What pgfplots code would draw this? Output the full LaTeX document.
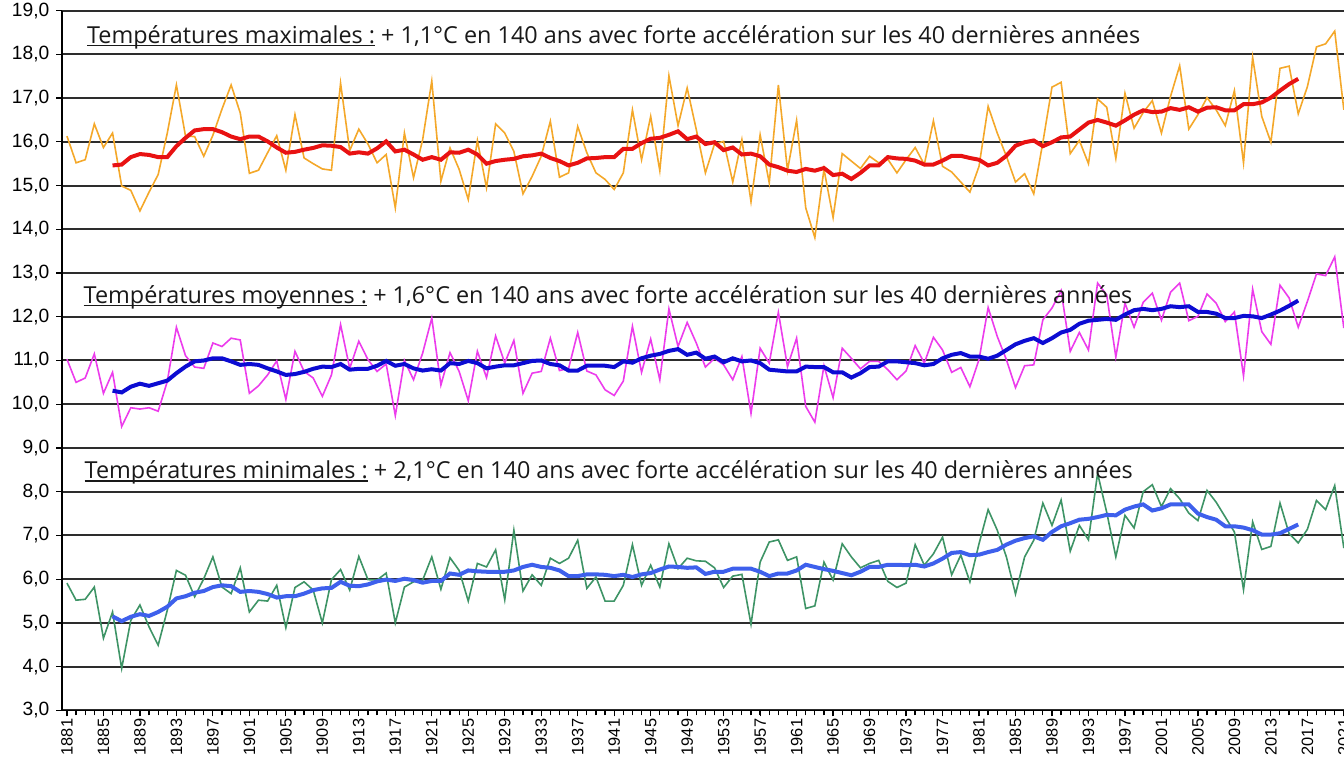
\documentclass[border=0pt]{standalone}
\usepackage{fontspec}
\setmainfont{Liberation Sans}
\newfontfamily\titlefont{Open Sans}
\usepackage{pgfplots}
\pgfplotsset{compat=1.18}
\definecolor{orangec}{RGB}{244,168,42}
\definecolor{redc}{RGB}{232,18,18}
\definecolor{magc}{RGB}{236,60,236}
\definecolor{dbluec}{RGB}{12,12,210}
\definecolor{greenc}{RGB}{62,148,102}
\definecolor{lbluec}{RGB}{62,96,236}
\definecolor{gridc}{RGB}{45,45,45}
\definecolor{titlec}{RGB}{25,25,25}
\newcommand\ul[1]{\setbox0\hbox{#1}\rlap{\rule[-1.6pt]{\wd0}{0.55pt}}\box0\relax}
\begin{document}
\begin{tikzpicture}
\begin{axis}[
  at={(31.2pt,22.8pt)}, anchor=south west,
  scale only axis, width=643pt, height=349.9pt,
  xmin=1880.5, xmax=2021.5, ymin=3, ymax=19,
  axis x line*=bottom, axis y line*=left,
  axis line style={black, line width=0.9pt},
  ytick={3,4,...,19}, ymajorgrids,
  grid style={color=gridc, line width=1pt},
  xtick={1881,1885,...,2021}, minor xtick={1881,1882,...,2021},
  tick align=outside, major tick length=3pt, minor tick length=2.5pt,
  tick style={black, line width=0.6pt},
  /pgf/number format/assume math mode=true,
  x tick label style={rotate=90, anchor=east, inner sep=1pt, font=\fontsize{8.2}{9}\selectfont,
     /pgf/number format/.cd, set thousands separator={}},
  y tick label style={font=\fontsize{9.6}{10}\selectfont,
     /pgf/number format/.cd, fixed, fixed zerofill, precision=1, use comma},
  clip=true,
]
\addplot[orangec, line width=0.8pt] table {
1881 16.13
1882 15.52
1883 15.59
1884 16.41
1885 15.87
1886 16.20
1887 14.99
1888 14.89
1889 14.42
1890 14.85
1891 15.25
1892 16.20
1893 17.30
1894 16.13
1895 16.12
1896 15.67
1897 16.15
1898 16.75
1899 17.30
1900 16.66
1901 15.28
1902 15.35
1903 15.75
1904 16.14
1905 15.35
1906 16.62
1907 15.63
1908 15.50
1909 15.38
1910 15.35
1911 17.34
1912 15.80
1913 16.29
1914 15.95
1915 15.52
1916 15.71
1917 14.49
1918 16.20
1919 15.18
1920 16.05
1921 17.39
1922 15.10
1923 15.86
1924 15.37
1925 14.68
1926 16.03
1927 14.95
1928 16.41
1929 16.20
1930 15.78
1931 14.81
1932 15.21
1933 15.67
1934 16.47
1935 15.19
1936 15.29
1937 16.35
1938 15.75
1939 15.29
1940 15.14
1941 14.91
1942 15.29
1943 16.73
1944 15.59
1945 16.58
1946 15.34
1947 17.51
1948 16.37
1949 17.23
1950 16.28
1951 15.29
1952 15.95
1953 16.01
1954 15.08
1955 16.05
1956 14.63
1957 16.16
1958 15.06
1959 17.30
1960 15.35
1961 16.49
1962 14.49
1963 13.81
1964 15.37
1965 14.27
1966 15.73
1967 15.56
1968 15.39
1969 15.67
1970 15.52
1971 15.60
1972 15.29
1973 15.59
1974 15.87
1975 15.48
1976 16.48
1977 15.44
1978 15.31
1979 15.08
1980 14.85
1981 15.44
1982 16.81
1983 16.20
1984 15.67
1985 15.08
1986 15.27
1987 14.81
1988 15.99
1989 17.25
1990 17.36
1991 15.73
1992 16.03
1993 15.50
1994 16.98
1995 16.79
1996 15.62
1997 17.11
1998 16.31
1999 16.67
2000 16.94
2001 16.20
2002 17.04
2003 17.74
2004 16.29
2005 16.62
2006 17.01
2007 16.73
2008 16.37
2009 17.17
2010 15.52
2011 17.93
2012 16.58
2013 15.99
2014 17.68
2015 17.73
2016 16.64
2017 17.26
2018 18.17
2019 18.24
2020 18.53
2021 16.73
};
\addplot[redc, line width=2pt] table {
1886 15.46
1887 15.48
1888 15.65
1889 15.72
1890 15.70
1891 15.65
1892 15.65
1893 15.90
1894 16.09
1895 16.26
1896 16.29
1897 16.29
1898 16.22
1899 16.12
1900 16.06
1901 16.12
1902 16.12
1903 16.01
1904 15.87
1905 15.75
1906 15.77
1907 15.82
1908 15.86
1909 15.92
1910 15.91
1911 15.88
1912 15.73
1913 15.76
1914 15.73
1915 15.85
1916 16.01
1917 15.78
1918 15.82
1919 15.71
1920 15.59
1921 15.65
1922 15.59
1923 15.76
1924 15.75
1925 15.82
1926 15.71
1927 15.50
1928 15.56
1929 15.59
1930 15.61
1931 15.67
1932 15.69
1933 15.73
1934 15.63
1935 15.56
1936 15.46
1937 15.52
1938 15.62
1939 15.63
1940 15.65
1941 15.65
1942 15.84
1943 15.84
1944 15.97
1945 16.07
1946 16.09
1947 16.16
1948 16.24
1949 16.06
1950 16.12
1951 15.95
1952 15.99
1953 15.81
1954 15.87
1955 15.71
1956 15.73
1957 15.67
1958 15.48
1959 15.42
1960 15.34
1961 15.31
1962 15.38
1963 15.34
1964 15.40
1965 15.24
1966 15.27
1967 15.15
1968 15.29
1969 15.46
1970 15.46
1971 15.65
1972 15.62
1973 15.61
1974 15.57
1975 15.48
1976 15.48
1977 15.57
1978 15.68
1979 15.68
1980 15.63
1981 15.59
1982 15.46
1983 15.52
1984 15.68
1985 15.91
1986 15.99
1987 16.03
1988 15.90
1989 15.99
1990 16.10
1991 16.12
1992 16.28
1993 16.44
1994 16.50
1995 16.44
1996 16.37
1997 16.49
1998 16.62
1999 16.72
2000 16.68
2001 16.69
2002 16.77
2003 16.73
2004 16.79
2005 16.69
2006 16.78
2007 16.79
2008 16.72
2009 16.72
2010 16.86
2011 16.86
2012 16.90
2013 17.01
2014 17.17
2015 17.32
2016 17.44
};
\addplot[magc, line width=0.8pt] table {
1881 11.03
1882 10.50
1883 10.60
1884 11.15
1885 10.25
1886 10.73
1887 9.49
1888 9.92
1889 9.89
1890 9.92
1891 9.84
1892 10.52
1893 11.76
1894 11.11
1895 10.85
1896 10.82
1897 11.40
1898 11.32
1899 11.51
1900 11.47
1901 10.25
1902 10.42
1903 10.67
1904 10.99
1905 10.11
1906 11.21
1907 10.75
1908 10.60
1909 10.18
1910 10.67
1911 11.82
1912 10.82
1913 11.44
1914 11.02
1915 10.75
1916 10.92
1917 9.74
1918 11.00
1919 10.56
1920 11.17
1921 11.97
1922 10.44
1923 11.18
1924 10.75
1925 10.08
1926 11.21
1927 10.61
1928 11.56
1929 10.94
1930 11.46
1931 10.25
1932 10.71
1933 10.75
1934 11.51
1935 10.77
1936 10.82
1937 11.64
1938 10.76
1939 10.67
1940 10.33
1941 10.20
1942 10.53
1943 11.78
1944 10.73
1945 11.49
1946 10.56
1947 12.18
1948 11.32
1949 11.87
1950 11.40
1951 10.85
1952 11.05
1953 10.90
1954 10.56
1955 11.09
1956 9.79
1957 11.28
1958 10.94
1959 12.10
1960 10.86
1961 11.51
1962 9.95
1963 9.59
1964 10.88
1965 10.15
1966 11.28
1967 11.05
1968 10.81
1969 10.98
1970 10.98
1971 10.79
1972 10.56
1973 10.76
1974 11.34
1975 10.94
1976 11.53
1977 11.24
1978 10.73
1979 10.84
1980 10.40
1981 11.02
1982 12.21
1983 11.55
1984 11.02
1985 10.38
1986 10.88
1987 10.90
1988 11.93
1989 12.20
1990 12.60
1991 11.21
1992 11.64
1993 11.24
1994 12.77
1995 12.50
1996 11.08
1997 12.31
1998 11.76
1999 12.33
2000 12.54
2001 11.92
2002 12.56
2003 12.77
2004 11.91
2005 12.01
2006 12.52
2007 12.31
2008 11.89
2009 12.11
2010 10.65
2011 12.63
2012 11.66
2013 11.37
2014 12.72
2015 12.43
2016 11.76
2017 12.35
2018 12.98
2019 12.94
2020 13.37
2021 11.74
};
\addplot[dbluec, line width=2pt] table {
1886 10.31
1887 10.27
1888 10.40
1889 10.47
1890 10.42
1891 10.48
1892 10.54
1893 10.71
1894 10.86
1895 10.98
1896 11.00
1897 11.05
1898 11.05
1899 10.98
1900 10.90
1901 10.92
1902 10.90
1903 10.82
1904 10.75
1905 10.67
1906 10.69
1907 10.74
1908 10.81
1909 10.86
1910 10.85
1911 10.92
1912 10.79
1913 10.81
1914 10.81
1915 10.88
1916 10.99
1917 10.88
1918 10.92
1919 10.82
1920 10.77
1921 10.80
1922 10.77
1923 10.94
1924 10.92
1925 10.99
1926 10.94
1927 10.82
1928 10.86
1929 10.89
1930 10.89
1931 10.94
1932 10.99
1933 11.00
1934 10.92
1935 10.89
1936 10.77
1937 10.77
1938 10.88
1939 10.88
1940 10.88
1941 10.85
1942 10.98
1943 10.95
1944 11.05
1945 11.11
1946 11.15
1947 11.22
1948 11.26
1949 11.13
1950 11.18
1951 11.04
1952 11.09
1953 10.96
1954 11.05
1955 10.98
1956 11.00
1957 10.94
1958 10.79
1959 10.77
1960 10.75
1961 10.75
1962 10.86
1963 10.85
1964 10.85
1965 10.73
1966 10.73
1967 10.61
1968 10.71
1969 10.85
1970 10.86
1971 10.98
1972 10.98
1973 10.96
1974 10.94
1975 10.89
1976 10.92
1977 11.05
1978 11.13
1979 11.17
1980 11.09
1981 11.09
1982 11.04
1983 11.11
1984 11.24
1985 11.37
1986 11.45
1987 11.51
1988 11.40
1989 11.51
1990 11.64
1991 11.70
1992 11.84
1993 11.91
1994 11.93
1995 11.95
1996 11.93
1997 12.05
1998 12.15
1999 12.18
2000 12.15
2001 12.18
2002 12.24
2003 12.22
2004 12.24
2005 12.11
2006 12.11
2007 12.07
2008 11.97
2009 11.97
2010 12.02
2011 12.01
2012 11.97
2013 12.05
2014 12.14
2015 12.25
2016 12.37
};
\addplot[greenc, line width=0.8pt] table {
1881 5.91
1882 5.52
1883 5.54
1884 5.82
1885 4.65
1886 5.25
1887 3.96
1888 5.06
1889 5.41
1890 4.91
1891 4.49
1892 5.29
1893 6.20
1894 6.09
1895 5.60
1896 6.01
1897 6.51
1898 5.82
1899 5.67
1900 6.26
1901 5.25
1902 5.52
1903 5.50
1904 5.86
1905 4.89
1906 5.81
1907 5.94
1908 5.75
1909 5.00
1910 5.99
1911 6.22
1912 5.75
1913 6.52
1914 5.99
1915 5.98
1916 6.14
1917 5.00
1918 5.82
1919 5.94
1920 5.98
1921 6.51
1922 5.77
1923 6.49
1924 6.20
1925 5.50
1926 6.36
1927 6.28
1928 6.67
1929 5.53
1930 7.12
1931 5.73
1932 6.10
1933 5.86
1934 6.48
1935 6.36
1936 6.48
1937 6.89
1938 5.79
1939 6.05
1940 5.50
1941 5.50
1942 5.86
1943 6.79
1944 5.86
1945 6.32
1946 5.82
1947 6.81
1948 6.24
1949 6.48
1950 6.42
1951 6.41
1952 6.26
1953 5.81
1954 6.07
1955 6.11
1956 4.97
1957 6.39
1958 6.85
1959 6.90
1960 6.43
1961 6.51
1962 5.33
1963 5.39
1964 6.39
1965 5.98
1966 6.81
1967 6.51
1968 6.26
1969 6.36
1970 6.43
1971 5.95
1972 5.81
1973 5.91
1974 6.79
1975 6.32
1976 6.58
1977 6.96
1978 6.10
1979 6.55
1980 5.94
1981 6.81
1982 7.59
1983 7.12
1984 6.51
1985 5.66
1986 6.51
1987 6.89
1988 7.74
1989 7.23
1990 7.81
1991 6.64
1992 7.23
1993 6.90
1994 8.42
1995 7.53
1996 6.51
1997 7.46
1998 7.17
1999 8.00
2000 8.16
2001 7.66
2002 8.07
2003 7.84
2004 7.51
2005 7.34
2006 8.03
2007 7.76
2008 7.42
2009 7.08
2010 5.76
2011 7.31
2012 6.68
2013 6.75
2014 7.74
2015 7.04
2016 6.83
2017 7.14
2018 7.80
2019 7.59
2020 8.14
2021 6.71
};
\addplot[lbluec, line width=2pt] table {
1886 5.15
1887 5.04
1888 5.14
1889 5.20
1890 5.16
1891 5.25
1892 5.37
1893 5.56
1894 5.61
1895 5.69
1896 5.73
1897 5.82
1898 5.86
1899 5.84
1900 5.71
1901 5.73
1902 5.71
1903 5.66
1904 5.58
1905 5.61
1906 5.61
1907 5.67
1908 5.75
1909 5.79
1910 5.80
1911 5.94
1912 5.85
1913 5.84
1914 5.88
1915 5.95
1916 5.99
1917 5.96
1918 6.01
1919 5.98
1920 5.92
1921 5.96
1922 5.96
1923 6.13
1924 6.10
1925 6.20
1926 6.18
1927 6.17
1928 6.17
1929 6.17
1930 6.20
1931 6.28
1932 6.33
1933 6.28
1934 6.26
1935 6.20
1936 6.07
1937 6.07
1938 6.11
1939 6.11
1940 6.10
1941 6.07
1942 6.10
1943 6.05
1944 6.11
1945 6.14
1946 6.22
1947 6.29
1948 6.28
1949 6.26
1950 6.27
1951 6.12
1952 6.17
1953 6.17
1954 6.24
1955 6.24
1956 6.24
1957 6.17
1958 6.07
1959 6.13
1960 6.13
1961 6.20
1962 6.33
1963 6.28
1964 6.23
1965 6.19
1966 6.14
1967 6.09
1968 6.17
1969 6.28
1970 6.28
1971 6.33
1972 6.33
1973 6.32
1974 6.33
1975 6.29
1976 6.36
1977 6.47
1978 6.60
1979 6.62
1980 6.55
1981 6.56
1982 6.62
1983 6.67
1984 6.79
1985 6.88
1986 6.94
1987 6.98
1988 6.90
1989 7.08
1990 7.21
1991 7.28
1992 7.36
1993 7.38
1994 7.42
1995 7.47
1996 7.46
1997 7.59
1998 7.66
1999 7.71
2000 7.57
2001 7.62
2002 7.71
2003 7.71
2004 7.71
2005 7.50
2006 7.42
2007 7.36
2008 7.21
2009 7.21
2010 7.18
2011 7.12
2012 7.02
2013 7.02
2014 7.05
2015 7.15
2016 7.25
};
\end{axis}
\begin{scope}[every node/.style={anchor=base west, inner sep=0pt, text=titlec, font=\titlefont\fontsize{11.7}{13}\selectfont}]
\node at (43.35pt,356.35pt) {\ul{Températures maximales :} + 1,1°C en 140 ans avec forte accélération sur les 40 dernières années};
\node at (41.65pt,226.35pt) {\ul{Températures moyennes :} + 1,6°C en 140 ans avec forte accélération sur les 40 dernières années};
\node at (42.15pt,138.85pt) {\ul{Températures minimales :} + 2,1°C en 140 ans avec forte accélération sur les 40 dernières années};
\end{scope}
\pgfresetboundingbox
\path[use as bounding box] (0,0) rectangle (672pt,378pt);
\end{tikzpicture}
\end{document}
